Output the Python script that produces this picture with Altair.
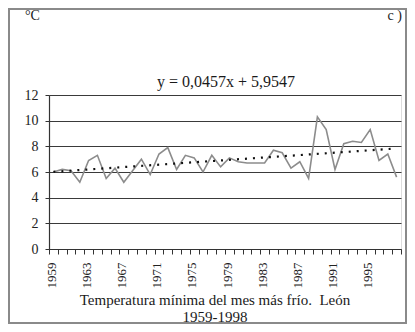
import altair as alt
import pandas as pd

years = list(range(1959, 1999))
tmin = [6.0, 6.2, 6.1, 5.2, 6.9, 7.3, 5.5, 6.3, 5.2, 6.1,
        7.0, 5.8, 7.4, 7.9, 6.2, 7.3, 7.1, 6.0, 7.3, 6.4,
        7.1, 6.8, 6.7, 6.7, 6.7, 7.7, 7.5, 6.3, 6.8, 5.5,
        10.3, 9.3, 6.2, 8.2, 8.4, 8.3, 9.3, 6.9, 7.4, 5.6]
y_ticks = [0, 2, 4, 6, 8, 10, 12]
x_tick_bounds = [y - 0.5 for y in range(1959, 2000)]
equation = "y = 0,0457x + 5,9547"
unit_label = "°C"
panel_label = "c )"
title_lines = ["Temperatura mínima del mes más frío.\u00a0 León", "1959-1998"]

df = pd.DataFrame({"year": years, "tmin": tmin})
FONT = "Liberation Serif"

xscale = alt.Scale(domain=[1958.5, 1998.5], nice=False, zero=False)
yscale = alt.Scale(domain=[0, 12], nice=False)

xaxis = alt.Axis(
    values=x_tick_bounds, title=None, grid=False, tickSize=5, tickColor="#333333",
    domainColor="#333333", domainWidth=1.2, labelAngle=270, labelPadding=8,
    labelFont=FONT, labelFontSize=13, labelColor="#222222", labelFlush=False,
    labelOverlap=False, labelOffset=2,
    labelExpr="(datum.value < 1998 && (datum.value + 0.5 - 1959) % 4 == 0) ? toString(datum.value + 0.5) : ''",
)
yaxis = alt.Axis(
    values=y_ticks, title=None, grid=True, gridColor="#3a3a3a", gridWidth=1.2,
    tickSize=4, tickColor="#333333", domainColor="#333333", domainWidth=1.2,
    labelPadding=7, labelFont=FONT, labelFontSize=14, labelColor="#222222",
    labelOverlap=False, labelFlush=False,
)

base = alt.Chart(df)

line = base.mark_line(color="#8c8c8c", strokeWidth=1.6).encode(
    x=alt.X("year:Q", scale=xscale, axis=xaxis),
    y=alt.Y("tmin:Q", scale=yscale, axis=yaxis),
)

trend = base.transform_regression("year", "tmin").mark_line(
    color="#111111", strokeWidth=2.2, strokeDash=[2, 6], strokeCap="butt"
).encode(
    x=alt.X("year:Q", scale=xscale, axis=xaxis),
    y=alt.Y("tmin:Q", scale=yscale, axis=yaxis),
)

one = alt.Data(values=[{"a": 1}])

def txt(s, x, y, size, align="center"):
    return alt.Chart(one).mark_text(
        font=FONT, fontSize=size, align=align, baseline="alphabetic", color="#1a1a1a"
    ).encode(x=alt.value(x), y=alt.value(y), text=alt.value(s))

frame = alt.Chart(one).mark_rect(
    fillOpacity=0, stroke="#8a8a8a", strokeWidth=2
).encode(x=alt.value(-40), x2=alt.value(357), y=alt.value(-86), y2=alt.value(228))

chart = alt.layer(
    frame,
    line,
    trend,
    txt(unit_label, -24, -75, 14, "left"),
    txt(panel_label, 357 - 4, -75, 14, "right"),
    txt(equation, 177, -8, 16),
    txt(title_lines[0], 166, 210, 15),
    txt(title_lines[1], 166, 227, 15),
).properties(
    width=352, height=154,
    autosize=alt.AutoSizeParams(type="none"),
    padding={"left": 41, "top": 87, "right": 6, "bottom": 75},
).configure_view(stroke="#8a8a8a", strokeWidth=1.2).configure(background="white")

chart.save("out.html", embed_options={"renderer": "svg", "actions": False})
